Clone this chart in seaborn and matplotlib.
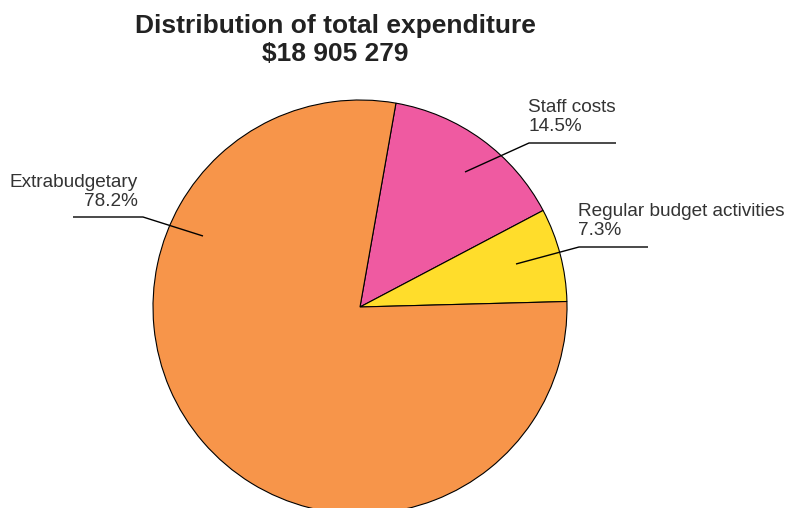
import numpy as np
import matplotlib
matplotlib.use("Agg")
import matplotlib.pyplot as plt
import seaborn as sns

# Expenditure breakdown
categories = ["Staff costs", "Regular budget activities", "Extrabudgetary"]
shares = [14.5, 7.3, 78.2]
title_lines = ["Distribution of total expenditure", "$18 905 279"]

colors = ["#EF5AA1", "#FFDD2B", "#F7954A"]

sns.set_theme(style="white")
plt.rcParams["font.family"] = ["Liberation Sans", "DejaVu Sans"]

W, H, DPI = 789, 508, 100
fig = plt.figure(figsize=(W / DPI, H / DPI), dpi=DPI)
ax = fig.add_axes([0, 0, 1, 1])

# pie centre and radius in pixels
cx, cy, r = 360, 307, 207

wedges, _ = ax.pie(
    shares,
    colors=colors,
    startangle=80,
    counterclock=False,
    wedgeprops=dict(edgecolor="black", linewidth=0.8),
)
ax.set_xlim(-cx / r, (W - cx) / r)
ax.set_ylim(-(H - cy) / r, cy / r)
ax.set_aspect("auto")
ax.axis("off")


def px(x, y):
    return (x - cx) / r, (cy - y) / r


# leader lines: point inside wedge -> elbow -> end of underline, plus text anchor
leaders = {
    "Staff costs": dict(pts=[(465, 172), (529, 143), (616, 143)], text=(528, 135), ha="left"),
    "Regular budget activities": dict(pts=[(516, 264), (579, 247), (648, 247)], text=(578, 239), ha="left"),
    "Extrabudgetary": dict(pts=[(203, 236), (143, 217), (73, 217)], text=(138, 210), ha="right"),
}

for cat, val in zip(categories, shares):
    spec = leaders[cat]
    xs, ys = zip(*[px(*p) for p in spec["pts"]])
    ax.plot(xs, ys, color="black", lw=1.0, solid_capstyle="butt")
    tx, ty = px(*spec["text"])
    ax.text(tx, ty, f"{cat}\n{val:.1f}%", ha=spec["ha"], va="bottom",
            multialignment=spec["ha"], fontsize=13.7, color="#333333",
            linespacing=1.12)

fig.text(335 / W, 1 - 14 / H, title_lines[0].replace("$", r"\$") + "\n" + title_lines[1].replace("$", r"\$"),
         ha="center", va="top", fontsize=19, fontweight="bold", color="#222222",
         linespacing=1.22)

fig.savefig("out.png", dpi=DPI)
